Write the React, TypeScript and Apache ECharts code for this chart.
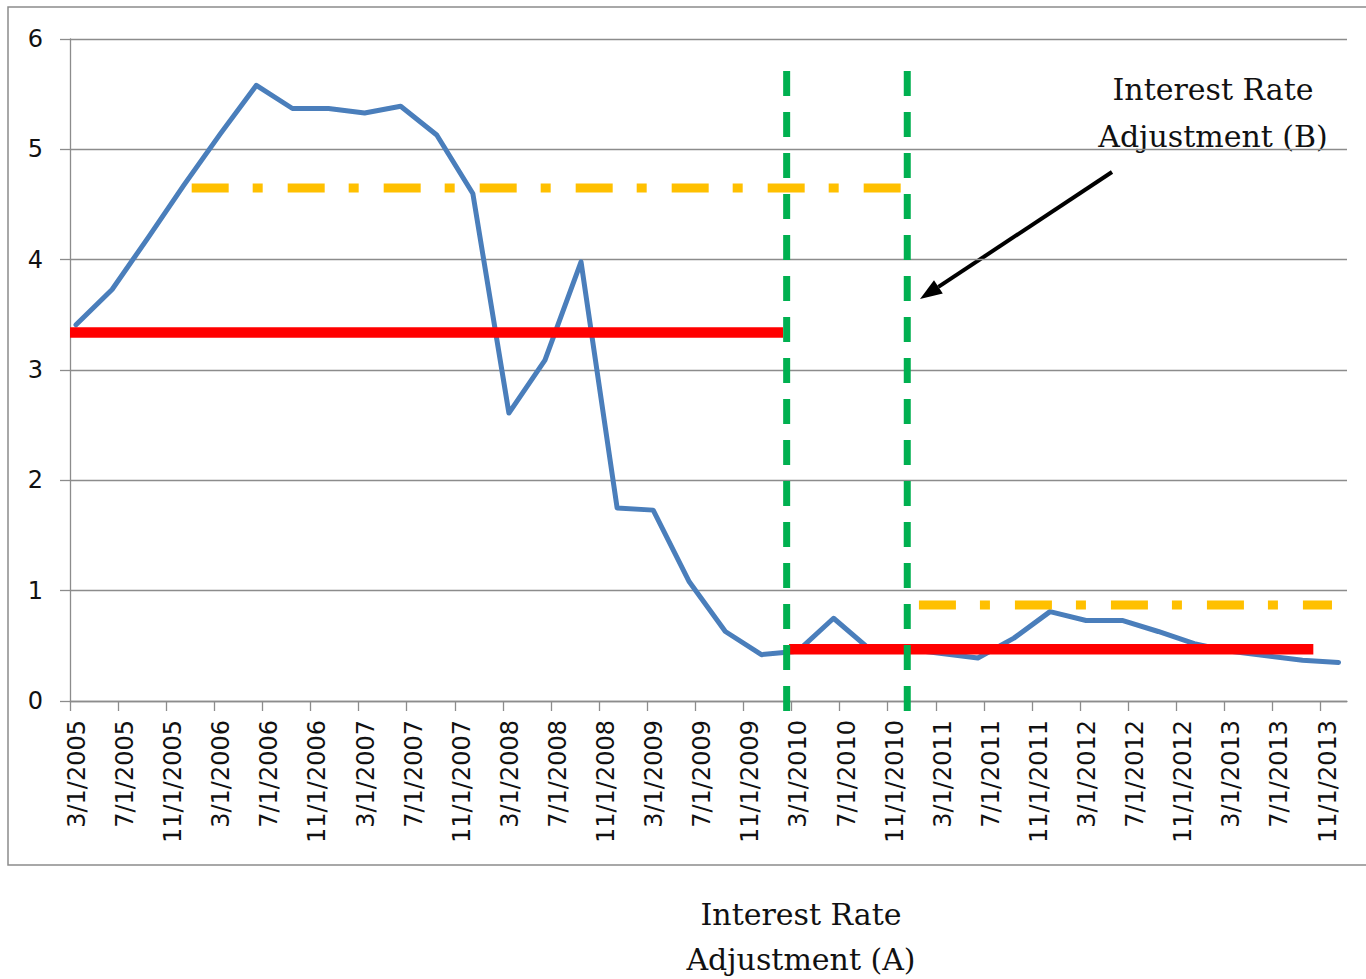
import React, { useEffect, useRef } from 'react';
import * as echarts from 'echarts';

// X-axis tick labels (every 4 months, starting 3/1/2005)
const tickLabels = [
  '3/1/2005', '7/1/2005', '11/1/2005',
  '3/1/2006', '7/1/2006', '11/1/2006',
  '3/1/2007', '7/1/2007', '11/1/2007',
  '3/1/2008', '7/1/2008', '11/1/2008',
  '3/1/2009', '7/1/2009', '11/1/2009',
  '3/1/2010', '7/1/2010', '11/1/2010',
  '3/1/2011', '7/1/2011', '11/1/2011',
  '3/1/2012', '7/1/2012', '11/1/2012',
  '3/1/2013', '7/1/2013', '11/1/2013',
];
// month offsets (from 3/1/2005) of each tick
const tickMonths = tickLabels.map((_, i) => i * 4);

// Quarterly interest rate observations (mid Mar/Jun/Sep/Dec, 2005 Q1 .. 2013 Q4)
const rates = [
  3.41, 3.73, 4.2, 4.68, 5.14, 5.58,
  5.37, 5.37, 5.33, 5.39, 5.13, 4.6,
  2.61, 3.09, 3.98, 1.75, 1.73, 1.08,
  0.63, 0.42, 0.45, 0.75, 0.47, 0.47,
  0.43, 0.39, 0.57, 0.81, 0.73, 0.73,
  0.63, 0.52, 0.45, 0.41, 0.37, 0.35,
];
const rateMonths = rates.map((_, i) => 0.5 + 3 * i);

// Average levels (red, solid) before / after adjustment A
const avgBefore = { from: 0, to: 59.3, value: 3.34 };
const avgAfter = { from: 59.8, to: 103.4, value: 0.47 };
// Dash-dot levels (orange) before / after adjustment B
const levelBefore = { from: 10.12, to: 69.27, value: 4.65 };
const levelAfter = { from: 70.6, to: 104.95, value: 0.87 };
// Adjustment dates (month offsets) and vertical extent of the markers
const adjustmentMonths = [59.6, 69.63];
const markerSpan = [5.71, -0.14];

const GRID_COLOR = '#8c8c8c';
const TEXT_COLOR = '#111111';

export default function App() {
  const ref = useRef<HTMLDivElement>(null);

  useEffect(() => {
    if (!ref.current) return;
    const chart = echarts.init(ref.current, null, { renderer: 'svg' });

    const hLine = (seg: { from: number; to: number; value: number }, color: string, width: number, dash: any) => ({
      type: 'line',
      data: [
        [seg.from, seg.value],
        [seg.to, seg.value],
      ],
      symbol: 'none',
      silent: true,
      clip: false,
      lineStyle: { color, width, type: dash, cap: 'butt' },
      emphasis: { disabled: true },
    });

    const vLine = (x: number) => ({
      type: 'line',
      data: [
        [x, markerSpan[0]],
        [x, markerSpan[1]],
      ],
      symbol: 'none',
      silent: true,
      clip: false,
      lineStyle: { color: '#00b050', width: 7, type: [25, 16], cap: 'butt' },
      emphasis: { disabled: true },
    });

    const textStyle = (text: string) => ({
      text,
      fontFamily: 'DejaVu Serif',
      fontSize: 30,
      fill: TEXT_COLOR,
      align: 'center',
      verticalAlign: 'middle',
      textAlign: 'center',
      textVerticalAlign: 'middle',
    });

    const option: any = {
      animation: false,
      backgroundColor: '#ffffff',
      grid: {
        left: 70,
        right: 19,
        top: 39,
        bottom: 278,
        containLabel: false,
        outerBoundsMode: 'none',
      },
      xAxis: {
        type: 'value',
        min: 0,
        max: 106.2,
        splitLine: { show: false },
        axisLine: { show: true, onZero: false, lineStyle: { color: GRID_COLOR, width: 1.3 } },
        axisTick: {
          show: true,
          length: 10,
          customValues: tickMonths,
          lineStyle: { color: GRID_COLOR, width: 1.3 },
        },
        axisLabel: {
          customValues: tickMonths,
          formatter: (v: number) => tickLabels[Math.round(v / 4)] ?? '',
          rotate: 90,
          margin: 19,
          fontFamily: 'DejaVu Sans',
          fontSize: 24,
          color: TEXT_COLOR,
          verticalAlign: 'top',
          lineHeight: 14,
        },
      },
      yAxis: {
        type: 'value',
        min: 0,
        max: 6,
        interval: 1,
        axisLine: { show: true, lineStyle: { color: GRID_COLOR, width: 1.3 } },
        axisTick: { show: true, length: 10, lineStyle: { color: GRID_COLOR, width: 1.3 } },
        splitLine: { show: true, lineStyle: { color: GRID_COLOR, width: 1.3 } },
        axisLabel: {
          margin: 27,
          fontFamily: 'DejaVu Sans',
          fontSize: 24,
          color: TEXT_COLOR,
        },
      },
      series: [
        {
          type: 'line',
          data: rateMonths.map((m, i) => [m, rates[i]]),
          symbol: 'none',
          silent: true,
          lineStyle: { color: '#4a7ebb', width: 5, join: 'round', cap: 'round' },
          emphasis: { disabled: true },
        },
        hLine(avgBefore, '#ff0000', 10.5, 'solid'),
        hLine(avgAfter, '#ff0000', 10.5, 'solid'),
        hLine(levelBefore, '#ffc000', 9, [37, 24, 10, 25]),
        hLine(levelAfter, '#ffc000', 9, [37, 24, 10, 25]),
        ...adjustmentMonths.map(vLine),
      ],
      graphic: [
        {
          type: 'rect',
          silent: true,
          z: -10,
          shape: { x: 8, y: 7, width: 1380, height: 858 },
          style: { fill: 'none', stroke: GRID_COLOR, lineWidth: 1.5 },
        },
        { type: 'text', x: 1213, y: 89.6, style: textStyle('Interest Rate') },
        { type: 'text', x: 1213, y: 136.3, style: textStyle('Adjustment (B)') },
        { type: 'text', x: 801, y: 914.6, style: textStyle('Interest Rate') },
        { type: 'text', x: 801, y: 959.6, style: textStyle('Adjustment (A)') },
        {
          type: 'line',
          silent: true,
          shape: { x1: 1112, y1: 172, x2: 938.4, y2: 286.9 },
          style: { stroke: '#000000', lineWidth: 4 },
        },
        {
          type: 'polygon',
          silent: true,
          shape: {
            points: [
              [920, 299],
              [942.8, 293.6],
              [934.0, 280.2],
            ],
          },
          style: { fill: '#000000' },
        },
      ],
    };

    chart.setOption(option);
    return () => chart.dispose();
  }, []);

  return (
    <div
      ref={ref}
      style={{ position: 'fixed', left: 0, top: 0, width: 1366, height: 979, background: '#ffffff' }}
    />
  );
}
